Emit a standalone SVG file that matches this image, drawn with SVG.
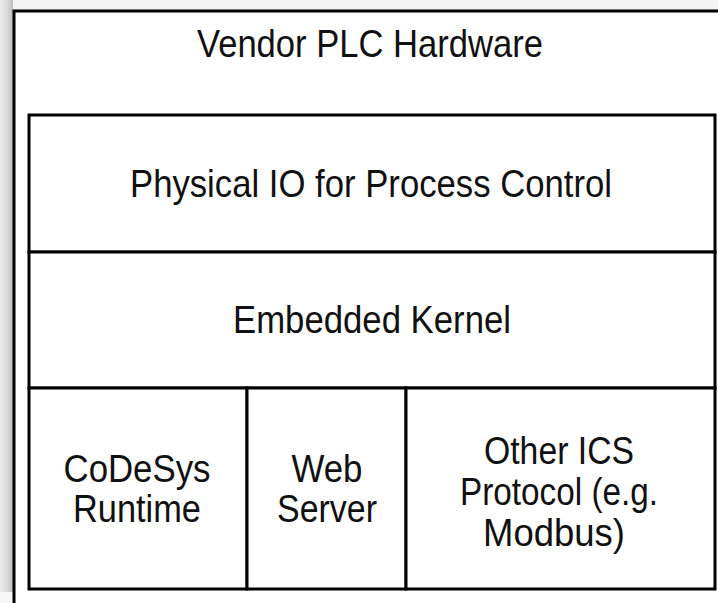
<svg xmlns="http://www.w3.org/2000/svg" width="718" height="603" viewBox="0 0 718 603">
  <defs>
    <linearGradient id="shade" x1="0" y1="0" x2="1" y2="0">
      <stop offset="0" stop-color="#ececec"/>
      <stop offset="0.5" stop-color="#dcdcdc"/>
      <stop offset="1" stop-color="#bdbdbd"/>
    </linearGradient>
  </defs>
  <style>
    .box { fill: #ffffff; stroke: #000000; stroke-width: 3; }
    .lbl { font-family: "Liberation Sans", Arial, Helvetica, sans-serif; font-size: 39px; fill: #111111; text-anchor: middle; }
  </style>
  <rect x="0" y="0" width="718" height="603" fill="#ffffff"/>
  <rect x="0" y="0" width="718" height="10" fill="#f3f3f3"/>
  <rect x="0" y="0" width="13" height="603" fill="url(#shade)"/>
  <rect x="0" y="592" width="718" height="11" fill="#f6f6f6"/>

  <g id="vendor-plc-hardware">
    <rect class="box" x="14" y="11" width="720" height="600"/>
    <text class="lbl" x="370" y="57" textLength="346" lengthAdjust="spacingAndGlyphs">Vendor PLC Hardware</text>
  </g>

  <g id="physical-io">
    <rect class="box" x="29" y="115" width="686" height="137"/>
    <text class="lbl" x="371" y="197" textLength="482" lengthAdjust="spacingAndGlyphs">Physical IO for Process Control</text>
  </g>

  <g id="embedded-kernel">
    <rect class="box" x="29" y="252" width="686" height="136"/>
    <text class="lbl" x="372" y="333" textLength="278" lengthAdjust="spacingAndGlyphs">Embedded Kernel</text>
  </g>

  <g id="codesys-runtime">
    <rect class="box" x="29" y="388" width="218" height="201"/>
    <text class="lbl" x="137" y="482" textLength="147" lengthAdjust="spacingAndGlyphs">CoDeSys</text>
    <text class="lbl" x="137" y="522" textLength="128" lengthAdjust="spacingAndGlyphs">Runtime</text>
  </g>

  <g id="web-server">
    <rect class="box" x="247" y="388" width="159" height="201"/>
    <text class="lbl" x="327" y="482" textLength="71" lengthAdjust="spacingAndGlyphs">Web</text>
    <text class="lbl" x="327" y="522" textLength="100" lengthAdjust="spacingAndGlyphs">Server</text>
  </g>

  <g id="other-ics-protocol">
    <rect class="box" x="406" y="388" width="309" height="201"/>
    <text class="lbl" x="559" y="464" textLength="150" lengthAdjust="spacingAndGlyphs">Other ICS</text>
    <text class="lbl" x="559" y="505" textLength="198" lengthAdjust="spacingAndGlyphs">Protocol (e.g.</text>
    <text class="lbl" x="554" y="546" textLength="142" lengthAdjust="spacingAndGlyphs">Modbus)</text>
  </g>

  <g id="connectors"/>
</svg>
